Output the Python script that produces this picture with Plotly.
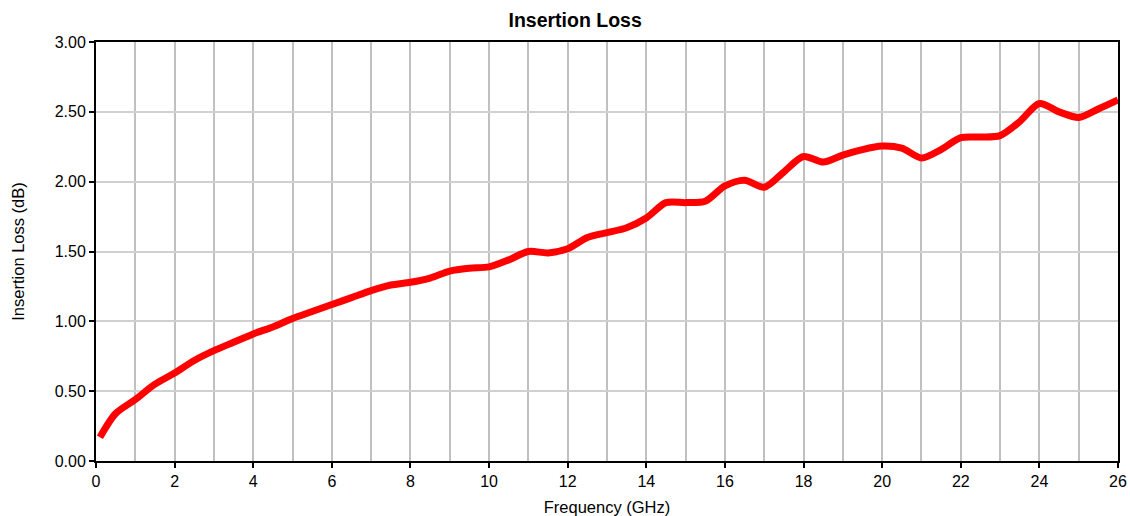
import plotly.graph_objects as go

freq_ghz = [0.1, 0.5, 1, 1.5, 2, 2.5, 3, 3.5, 4, 4.5, 5, 5.5, 6, 6.5, 7, 7.5, 8, 8.5, 9, 9.5,
            10, 10.5, 11, 11.5, 12, 12.5, 13, 13.5, 14, 14.5, 15, 15.5, 16, 16.5, 17, 17.5,
            18, 18.5, 19, 19.5, 20, 20.5, 21, 21.5, 22, 22.5, 23, 23.5, 24, 24.5, 25, 25.5, 26]
loss_db = [0.17, 0.34, 0.44, 0.55, 0.63, 0.72, 0.79, 0.85, 0.91, 0.96, 1.02, 1.07, 1.12, 1.17,
           1.22, 1.26, 1.28, 1.31, 1.36, 1.38, 1.39, 1.44, 1.50, 1.49, 1.52, 1.60, 1.635, 1.67,
           1.74, 1.85, 1.85, 1.86, 1.97, 2.01, 1.96, 2.07, 2.18, 2.14, 2.19, 2.23, 2.255, 2.24,
           2.17, 2.23, 2.315, 2.32, 2.33, 2.43, 2.56, 2.50, 2.46, 2.52, 2.585]

x_ticks = list(range(0, 27, 2))
y_ticks = [0, 0.5, 1.0, 1.5, 2.0, 2.5, 3.0]

fig = go.Figure()
fig.add_trace(go.Scatter(x=freq_ghz, y=loss_db, mode="lines",
                         line=dict(color="#ff0000", width=7, shape="spline", smoothing=0.8),
                         showlegend=False, hoverinfo="x+y"))

font = "Liberation Sans, Arial, sans-serif"
fig.update_layout(
    width=1130, height=516,
    margin=dict(l=96, r=12, t=42, b=55, autoexpand=False),
    paper_bgcolor="white", plot_bgcolor="white",
    title=dict(text="<b>Insertion Loss</b>", x=0.509, xanchor="center", y=0.961, yanchor="middle",
               xref="container", yref="container",
               font=dict(family=font, size=19.5, color="black")),
    font=dict(family=font, size=16, color="black"),
)
fig.update_xaxes(range=[0, 26], tickmode="array", tickvals=x_ticks, ticks="outside", ticklen=5,
                 tickwidth=2, tickcolor="black", showline=True, linecolor="black", linewidth=2,
                 mirror=True, showgrid=False, automargin=False,
                 minor=dict(dtick=1, tick0=0, showgrid=True, gridcolor="#c0c0c0", gridwidth=1.5, ticks=""),
                 title=dict(text="Frequency (GHz)", font=dict(size=16.5), standoff=12),
                 tickfont=dict(size=16), zeroline=False)
fig.update_yaxes(range=[0, 3], tickvals=y_ticks, ticktext=[f"{v:.2f}" for v in y_ticks],
                 ticks="outside", ticklen=5, tickwidth=2, tickcolor="black",
                 showline=True, linecolor="black", linewidth=2, mirror=True, automargin=False,
                 showgrid=True, gridcolor="#d0d0d0", gridwidth=1.5, zeroline=False,
                 title=dict(text="Insertion Loss (dB)", font=dict(size=16.5), standoff=26),
                 tickfont=dict(size=16))

fig.write_html("out.html", config={"displayModeBar": False},
               post_script="document.body.style.margin='0';document.body.style.overflow='hidden';")
